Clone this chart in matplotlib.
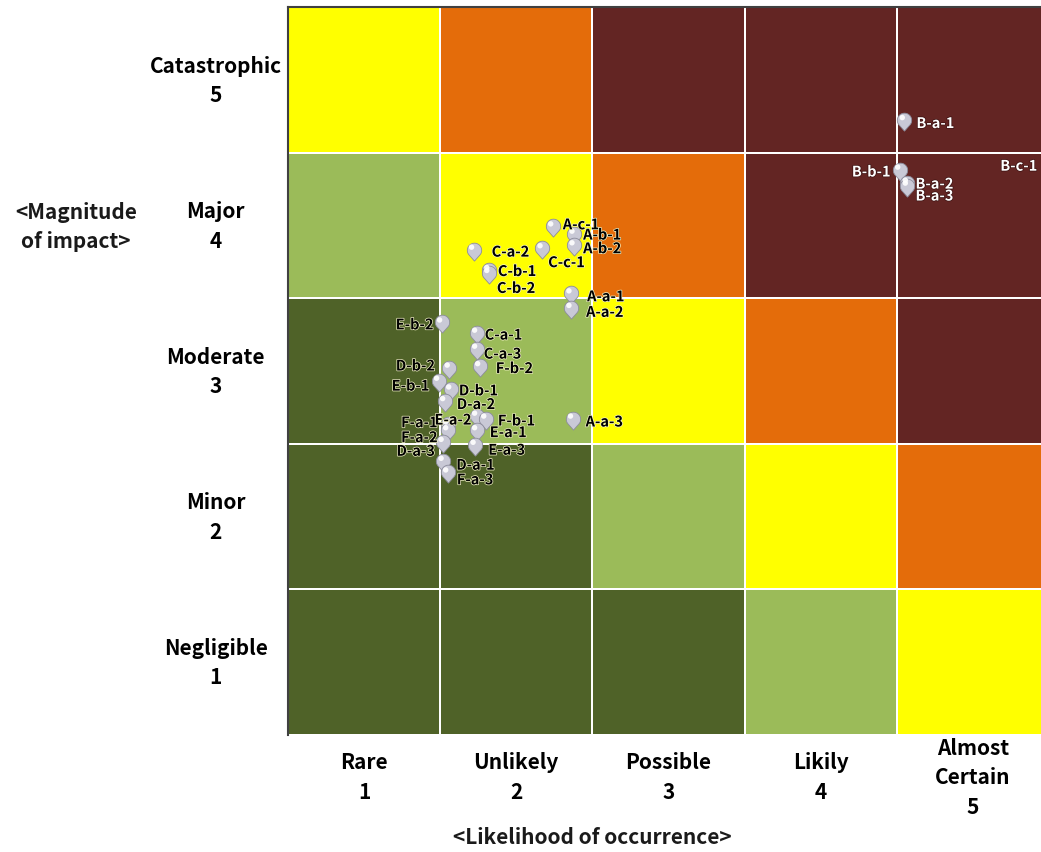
import numpy as np
import matplotlib
matplotlib.use("Agg")
import matplotlib.pyplot as plt
from matplotlib.colors import ListedColormap
from matplotlib.path import Path
import matplotlib.patheffects as pe

plt.rcParams['font.family'] = ['Noto Sans CJK KR', 'DejaVu Sans']

# Axis categories
likelihood_labels = ["Rare\n1", "Unlikely\n2", "Possible\n3", "Likily\n4", "Almost\nCertain\n5"]
impact_labels = ["Negligible\n1", "Minor\n2", "Moderate\n3", "Major\n4", "Catastrophic\n5"]

# Risk level of each cell, rows = impact 1..5, columns = likelihood 1..5
risk_level = [
    [1, 1, 1, 2, 3],
    [1, 1, 2, 3, 4],
    [1, 2, 3, 4, 5],
    [2, 3, 4, 5, 5],
    [3, 4, 5, 5, 5],
]
level_colors = ["#4f6228", "#9bbb59", "#ffff00", "#e46c0a", "#632523"]

# Assessed risk items
names = ["B-a-1", "B-b-1", "B-a-2", "B-a-3", "B-c-1",
         "A-c-1", "A-b-1", "A-b-2", "C-a-2", "C-c-1", "C-b-1", "C-b-2",
         "A-a-1", "A-a-2", "E-b-2", "C-a-1", "C-a-3", "F-b-2", "D-b-2",
         "E-b-1", "D-b-1", "D-a-2", "E-a-2", "F-b-1", "F-a-1", "F-a-2",
         "E-a-1", "D-a-3", "E-a-3", "D-a-1", "F-a-3", "A-a-3"]
likelihood = [4.55, 4.52, 4.57, 4.57, 5.51,
              2.24, 2.38, 2.38, 1.72, 2.17, 1.82, 1.82,
              2.36, 2.36, 1.51, 1.74, 1.74, 1.76, 1.56,
              1.49, 1.57, 1.53, 1.74, 1.80, 1.55, 1.55,
              1.74, 1.52, 1.73, 1.52, 1.55, 2.37]
impact = [4.71, 4.37, 4.28, 4.26, 4.41,
          3.98, 3.93, 3.85, 3.82, 3.83, 3.68, 3.66,
          3.52, 3.42, 3.32, 3.25, 3.14, 3.02, 3.01,
          2.92, 2.86, 2.78, 2.68, 2.66, 2.62, 2.58,
          2.58, 2.50, 2.48, 2.37, 2.29, 2.66]

# Label placement (pixel offset from the marker; negative x puts the label on the left)
label_offsets = {
    "B-a-1": (12, 1), "B-a-2": (8, -1), "B-a-3": (8, 8), "A-c-1": (10, -4),
    "A-b-1": (9, -1), "A-b-2": (9, 1), "C-a-2": (18, 0), "C-c-1": (6, 12),
    "C-b-1": (9, -1), "C-b-2": (8, 13), "A-a-1": (16, 1), "A-a-2": (15, 2),
    "C-a-1": (8, 0), "C-a-3": (7, 3), "F-b-2": (16, 0), "D-b-1": (8, -1),
    "D-a-2": (12, 1), "F-b-1": (12, 0), "E-a-1": (13, 0), "E-a-3": (13, 3),
    "D-a-1": (13, 2), "F-a-3": (9, 5), "A-a-3": (13, 1),
    "E-b-2": (-8, 0), "D-b-2": (-14, -4), "E-b-1": (-9, 3), "E-a-2": (-5, 2),
    "F-a-1": (-10, -4), "F-a-2": (-10, 5), "D-a-3": (-8, 7), "B-b-1": (-9, 0),
    "B-c-1": (-13, 0),
}
white_labels = {"B-a-1", "B-b-1", "B-a-2", "B-a-3", "B-c-1"}


def pin_marker():
    """Ball with a short point underneath."""
    c = (0.0, 0.3)
    th = np.radians(np.linspace(-35, 215, 60))
    pts = [(c[0] + np.cos(t), c[1] + np.sin(t)) for t in th]
    pts.append((0.0, -1.2))
    pts.append(pts[0])
    codes = [Path.MOVETO] + [Path.LINETO] * (len(pts) - 2) + [Path.CLOSEPOLY]
    return Path(pts, codes)


def glint_marker():
    """Highlight spot placed on the upper-left of the ball."""
    th = np.radians(np.linspace(0, 360, 30))
    pts = [(-0.3 + 0.38 * np.cos(t), 0.62 + 0.38 * np.sin(t)) for t in th]
    verts = [(0.0, 1.3), (0.0, -1.3)] + pts
    codes = [Path.MOVETO, Path.MOVETO, Path.MOVETO] + [Path.LINETO] * (len(pts) - 1)
    return Path(verts, codes)


W, H = 1041, 853
fig = plt.figure(figsize=(W / 100, H / 100), dpi=100)
fig.patch.set_facecolor("white")
ax = fig.add_axes([288 / W, (H - 736) / H, (1049 - 288) / W, (736 - 8) / H])

edges = np.arange(0.5, 6.0, 1.0)
cmap = ListedColormap(level_colors)
ax.pcolormesh(edges, edges, np.array(risk_level), cmap=cmap, vmin=0.5, vmax=5.5,
              edgecolors="white", linewidth=1.1)

ax.set_xlim(0.5, 5.5)
ax.set_ylim(0.5, 5.5)

ax.scatter(likelihood, impact, marker=pin_marker(), s=180, c="#c9c9d6",
           edgecolors="#8c8c9c", linewidths=0.6, zorder=3, clip_on=True)
ax.scatter(likelihood, impact, marker=glint_marker(), s=180, c="white",
           edgecolors="none", zorder=4, alpha=0.9, clip_on=True)

for n, x, y in zip(names, likelihood, impact):
    dx, dy = label_offsets[n]
    if n in white_labels:
        col, halo = "white", "#3a1010"
    else:
        col, halo = "black", "#f4f4c8"
    ax.annotate(n, (x, y), xytext=(dx, -dy), textcoords="offset pixels",
                ha="left" if dx > 0 else "right", va="center",
                fontsize=10.5, fontweight="bold", color=col, zorder=5,
                annotation_clip=False,
                path_effects=[pe.withStroke(linewidth=1.0, foreground=halo)])

ax.set_xticks(range(1, 6))
ax.set_xticklabels(likelihood_labels, fontsize=15, fontweight="bold",
                   linespacing=1.5, va="center", ha="center")
ax.set_yticks(range(1, 6))
ax.set_yticklabels(impact_labels, fontsize=15, fontweight="bold",
                   linespacing=1.5, ha="center", va="center")
ax.tick_params(axis="x", length=0, pad=30)
ax.tick_params(axis="y", length=0, pad=52)

for s in ["right", "bottom"]:
    ax.spines[s].set_visible(False)
for s in ["left", "top"]:
    ax.spines[s].set_color("#404040")
    ax.spines[s].set_linewidth(1.5)

fig.text(76 / W, 1 - 227 / H, "<Magnitude\nof impact>", ha="center", va="center",
         fontsize=15, fontweight="bold", linespacing=1.5, color="#1a1a1a")
fig.text(592 / W, 1 - 838 / H, "<Likelihood of occurrence>", ha="center", va="center",
         fontsize=15, fontweight="bold", color="#1a1a1a")

fig.savefig("out.png", dpi=100)
